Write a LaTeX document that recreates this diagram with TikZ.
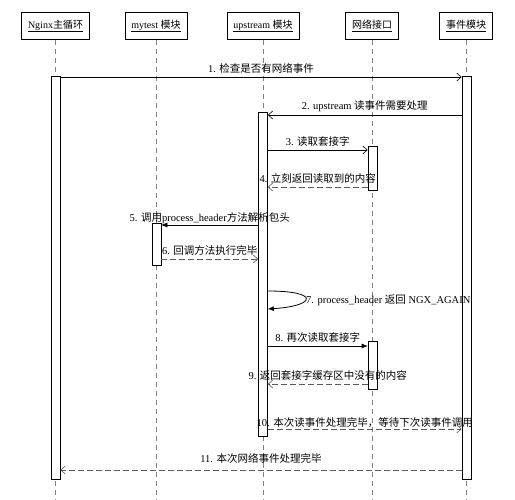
\documentclass[tikz,border=0pt]{standalone}
\usepackage{fontspec}
\setmainfont{Liberation Serif}
\newfontfamily\cjk{Noto Sans CJK SC}
\newcommand{\zh}[1]{{\cjk #1}}
\usetikzlibrary{arrows.meta}

\begin{document}
\begin{tikzpicture}[x=1pt,y=-1pt,
  font=\fontsize{10.5}{12}\selectfont,
  obj/.style={draw,thick,minimum height=27pt,inner xsep=6.5pt,fill=white,font=\fontsize{10}{12}\selectfont},
  life/.style={gray,dash pattern=on 5pt off 4pt},
  act/.style={draw,semithick,fill=white,minimum width=9pt,inner sep=0pt},
  call/.style={semithick,-{Straight Barb[length=4.5pt,width=8pt]}},
  callf/.style={semithick,-{Latex[length=6pt,width=5pt]}},
  ret/.style={semithick,gray!70!black,dash pattern=on 6pt off 3pt,-{Straight Barb[length=4.5pt,width=8pt]}},
]
\useasboundingbox (0,0) rectangle (515,500);
\coordinate (bottom) at (0,500);

\node[obj] (nginx) at (55.5,26) {\underline{Nginx\zh{主循环}}};
\node[obj] (mytest) at (156,26) {\underline{mytest \zh{模块}}};
\node[obj] (upstream) at (263,26) {\underline{upstream \zh{模块}}};
\node[obj] (net) at (372,26) {\underline{\zh{网络接口}}};
\node[obj] (event) at (466,26) {\underline{\zh{事件模块}}};

\foreach \o in {nginx,mytest,upstream,net,event}
  \draw[life] (\o.south) -- (\o.south |- bottom);

\node[act,minimum height=403pt] (mainAct) at (55.5,277.5) {};
\node[act,minimum height=403pt] (eventAct) at (466.5,277.5) {};
\node[act,minimum height=324pt] (upAct) at (263,274) {};
\node[act,minimum height=44pt] (netActA) at (372.5,168) {};
\node[act,minimum height=48pt] (netActB) at (372.5,365) {};
\node[act,minimum height=42pt] (mytestAct) at (156.5,244) {};

\draw[call] (mainAct.east |- 0,77) -- (eventAct.west |- 0,77)
  node[midway,above] {1. \zh{检查是否有网络事件}};
\draw[call] (eventAct.west |- 0,115) -- (upAct.east |- 0,115)
  node[midway,above] {2. upstream \zh{读事件需要处理}};
\draw[call] (upAct.east |- 0,150) -- (netActA.west |- 0,150)
  node[midway,above] {3. \zh{读取套接字}};
\draw[ret] (netActA.west |- 0,187) -- (upAct.east |- 0,187)
  node[midway,above,black] {4. \zh{立刻返回读取到的内容}};
\draw[callf] (upAct.west |- 0,225) -- (mytestAct.east |- 0,225)
  node[midway,above,inner sep=1pt] {5. \zh{调用}process\_header\zh{方法解析包头}};
\draw[ret] (mytestAct.east |- 0,259) -- (upAct.west |- 0,259)
  node[midway,above,black] {6. \zh{回调方法执行完毕}};
\draw[callf,thick] (upAct.east |- 0,291) .. controls +(53,0) and +(48,-3) .. (upAct.east |- 0,309);
\node[anchor=west,inner sep=1pt] (selfText) at (305,300) {7. process\_header \zh{返回} NGX\_AGAIN};
\draw[callf] (upAct.east |- 0,346) -- (netActB.west |- 0,346)
  node[midway,above] {8. \zh{再次读取套接字}};
\draw[ret] (netActB.west |- 0,384) -- (upAct.east |- 0,384)
  node[midway,above,black,xshift=10pt] {9. \zh{返回套接字缓存区中没有的内容}};
\draw[ret] (upAct.east |- 0,429) -- (eventAct.west |- 0,429)
  node[midway,above,black,inner sep=1pt] {10. \zh{本次读事件处理完毕，等待下次读事件调用}};
\draw[ret] (eventAct.west |- 0,470) -- (mainAct.east |- 0,470)
  node[midway,above=3pt,black] {11. \zh{本次网络事件处理完毕}};
\end{tikzpicture}
\end{document}
